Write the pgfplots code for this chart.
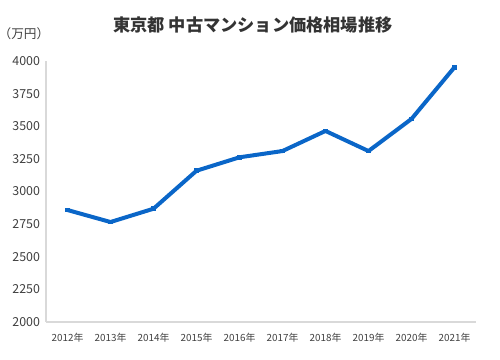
\documentclass[border=0pt]{standalone}
\usepackage{fontspec}
\setmainfont{Noto Sans CJK JP}
\usepackage{pgfplots}
\pgfplotsset{compat=1.18}
\definecolor{linecol}{HTML}{0A66C8}
\definecolor{axcol}{HTML}{D9D9D9}
\definecolor{txtcol}{HTML}{404040}
\begin{document}
\begin{tikzpicture}[x=0.75pt,y=0.75pt]
\useasboundingbox (-46,-38) rectangle (454,322);
\begin{axis}[
  at={(0,0)}, anchor=south west,
  scale only axis,
  width=322.5pt, height=195.75pt,
  xmin=-0.5, xmax=9.5,
  ymin=2000, ymax=4000,
  ytick={2000,2250,2500,2750,3000,3250,3500,3750,4000},
  xtick={0,...,9},
  xticklabels={2012年,2013年,2014年,2015年,2016年,2017年,2018年,2019年,2020年,2021年},
  axis x line=bottom, axis y line=left,
  axis line style={axcol, line width=1pt, -},
  major tick length=0pt,
  /pgf/number format/assume math mode=true,
  /pgf/number format/1000 sep={},
  yticklabel style={font=\fontsize{9.3pt}{11pt}\selectfont, text=txtcol, xshift=-1pt},
  xticklabel style={font=\fontsize{7.4pt}{9pt}\selectfont, text=txtcol, yshift=-5pt},
  clip=false,
]
\addplot[linecol, line width=3pt, line join=round, mark=square*, mark size=1.4pt, mark options={solid, line width=0pt}] coordinates {
(0,2858) (1,2766) (2,2868) (3,3159) (4,3262) (5,3310) (6,3464) (7,3310) (8,3556) (9,3952)
};
\end{axis}
\node[font=\bfseries\fontsize{12.9pt}{15pt}\selectfont, text=black!80] at (207,297) {東京都 中古マンション価格相場推移};
\node[font=\fontsize{9.5pt}{11pt}\selectfont, text=txtcol] at (-22,288) {（万円）};
\end{tikzpicture}
\end{document}
